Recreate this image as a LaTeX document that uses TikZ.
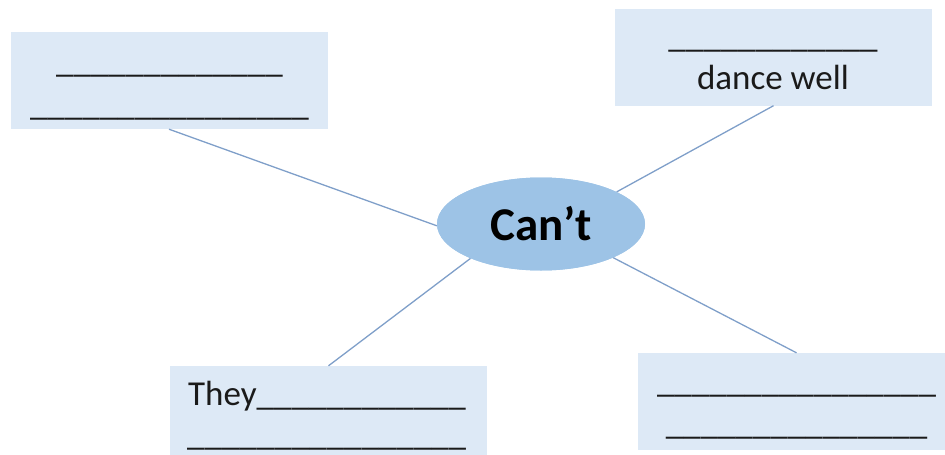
\documentclass[tikz,border=0pt]{standalone}
\usepackage{fontspec}
\setmainfont{Carlito}
\usetikzlibrary{shapes.geometric}
\definecolor{boxfill}{HTML}{DDE9F6}
\definecolor{ellfill}{HTML}{9DC3E6}
\definecolor{linkcol}{HTML}{7F9FC9}
\definecolor{txt}{HTML}{1A1A1A}
\tikzset{
  box/.style={rectangle, fill=boxfill, minimum width=317pt, minimum height=97pt, inner sep=0pt},
  hub/.style={ellipse, fill=ellfill, minimum width=208pt, minimum height=93pt, inner sep=0pt,
    font=\fontsize{47}{56}\selectfont\bfseries, text=black},
  line/.style={inner sep=0pt, font=\fontsize{35}{42}\selectfont, text=txt},
  link/.style={draw=linkcol, line width=1.3pt},
}
\begin{document}
\begin{tikzpicture}[x=1pt,y=-1pt]
\useasboundingbox (0,0) rectangle (945,455);
% boxes
\node[box] (b1) at (169,80.5) {};
\node[box] (b2) at (773.5,57) {};
\node[box] (b4) at (328.5,414.5) {};
\node[box] (b5) at (796.5,401.5) {};
% hub
\coordinate (cc) at (541,224);
\node[hub] (c) at (cc) {};
% connectors
\draw[link] (b1.south) -- (c.181);
\draw[link] (b2.south) -- (c.23);
\draw[link] (c.206) -- (b4.north);
\draw[link] (c.335) -- (b5.north);
\node[hub] (c) at (cc) {Can’t};
% texts
\node[line, anchor=base] (t1a) at (169.5,72) {\_\_\_\_\_\_\_\_\_\_\_\_\_};
\node[line, anchor=base] (t1b) at (169.5,115) {\_\_\_\_\_\_\_\_\_\_\_\_\_\_\_\_};
\node[line, anchor=base] (t2a) at (773,47) {\_\_\_\_\_\_\_\_\_\_\_\_};
\node[line, anchor=base] (t2b) at (773,89) {dance well};
\node[line, anchor=base west] (t4a) at (188,405) {They\_\_\_\_\_\_\_\_\_\_\_\_};
\node[line, anchor=base west] (t4b) at (187,445) {\_\_\_\_\_\_\_\_\_\_\_\_\_\_\_\_};
\node[line, anchor=base] (t5a) at (796.5,392) {\_\_\_\_\_\_\_\_\_\_\_\_\_\_\_\_};
\node[line, anchor=base] (t5b) at (796.5,434) {\_\_\_\_\_\_\_\_\_\_\_\_\_\_\_};
\end{tikzpicture}
\end{document}
